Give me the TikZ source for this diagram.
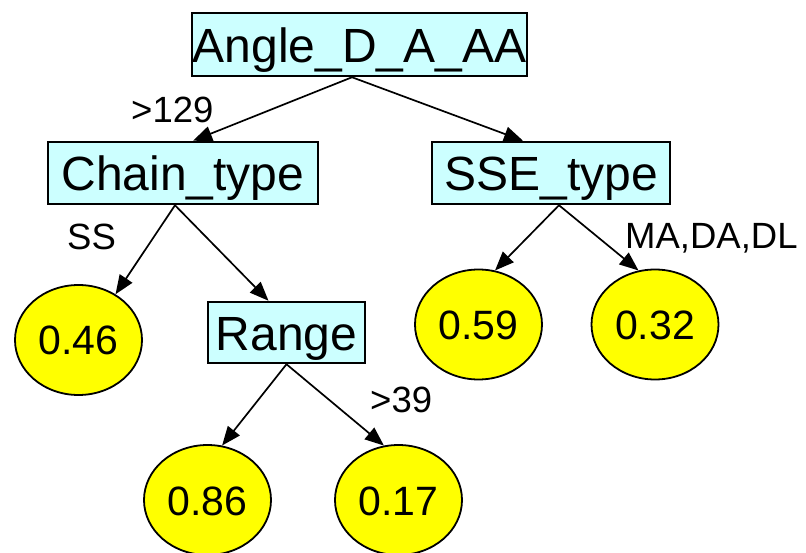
\documentclass[tikz,border=0pt]{standalone}
\usepackage{fontspec}
\setmainfont{Liberation Sans}
\usetikzlibrary{arrows.meta,shapes.geometric}
\definecolor{boxcyan}{HTML}{CCFFFF}
\definecolor{leafyellow}{HTML}{FFFF00}
\begin{document}
\begin{tikzpicture}[x=1pt,y=-1pt,
  splitbox/.style={draw=black, line width=2.5pt, fill=boxcyan, inner sep=0pt,
    text height=36pt, text depth=0pt, font=\fontsize{48}{50}\selectfont},
  leaf/.style={ellipse, draw=black, line width=1.8pt, fill=leafyellow, inner sep=0pt,
    minimum width=127pt, minimum height=110pt, text height=30pt, text depth=0pt,
    font=\fontsize{41}{44}\selectfont},
  edgelabel/.style={inner sep=0pt, anchor=base west, font=\fontsize{36.5}{38}\selectfont},
  branch/.style={line width=1.7pt, -{Triangle[length=19pt,width=15pt]}}
]
\useasboundingbox (0,0) rectangle (806,553);

\node[splitbox, minimum width=335pt, minimum height=63pt] (angle) at (359.5,44.5) {Angle\_D\_A\_AA};
\node[splitbox, minimum width=270pt, minimum height=62pt] (chain) at (183,173) {Chain\_type};
\node[splitbox, minimum width=238pt, minimum height=62pt] (sse) at (551,173) {SSE\_type};
\node[splitbox, minimum width=157pt, minimum height=61pt] (range) at (286.5,332.5) {Range};

\node[leaf] (n46) at (78.5,340) {0.46};
\node[leaf] (n59) at (478.5,324.5) {0.59};
\node[leaf] (n32) at (655,324.5) {0.32};
\node[leaf] (n86) at (207.5,500) {0.86};
\node[leaf] (n17) at (398.5,500) {0.17};

\draw[branch] ([xshift=-7.5pt]angle.south) -- ([xshift=10pt]chain.north);
\draw[branch] ([xshift=-7.5pt]angle.south) -- ([xshift=-28pt]sse.north);
\draw[branch] ([xshift=-8pt]chain.south) -- (n46.51);
\draw[branch] ([xshift=-8pt]chain.south) -- ([xshift=-18pt]range.north);
\draw[branch] ([xshift=8pt]sse.south) -- (n59.73);
\draw[branch] ([xshift=8pt]sse.south) -- (n32.107);
\draw[branch] (range.south) -- (n86.75);
\draw[branch] (range.south) -- (n17.105);

\node[edgelabel] (l129) at (131,123) {>129};
\node[edgelabel] (lss) at (67,250) {SS};
\node[edgelabel] (lma) at (625,249) {MA,DA,DL};
\node[edgelabel] (l39) at (370,412) {>39};
\end{tikzpicture}
\end{document}
